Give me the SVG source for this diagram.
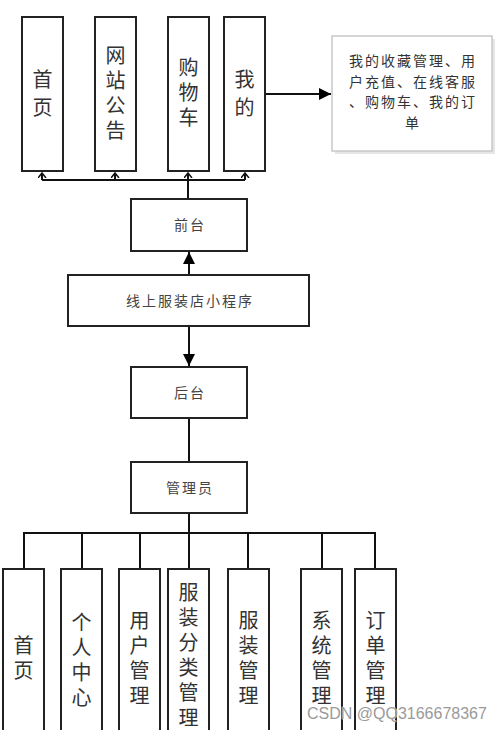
<svg xmlns="http://www.w3.org/2000/svg" width="500" height="730" viewBox="0 0 500 730">
<style>
.box{fill:#fff;stroke:#222;stroke-width:2}
.ln{fill:none;stroke:#111;stroke-width:2}
.v{font-family:"Noto Sans CJK SC","Noto Sans",sans-serif;font-size:20px;fill:#333;text-anchor:middle;writing-mode:vertical-rl;text-orientation:upright;letter-spacing:5px}
.w{letter-spacing:8px}
.m{font-family:"Noto Sans CJK SC","Noto Sans",sans-serif;font-size:14px;fill:#444;text-anchor:middle;letter-spacing:2px}
.r{font-family:"Noto Sans CJK SC","Noto Sans",sans-serif;font-size:14px;fill:#333;text-anchor:middle;letter-spacing:2px}
</style>
<defs>
<marker id="fa" markerUnits="userSpaceOnUse" markerWidth="14" markerHeight="14" refX="12" refY="6" orient="auto"><path d="M0,0 L12,6 L0,12 z" fill="#000"/></marker>
<marker id="oa" markerUnits="userSpaceOnUse" markerWidth="10" markerHeight="10" refX="5" refY="4.5" orient="auto"><path d="M0,0.5 L5,4.5 L0,8.5" fill="none" stroke="#111" stroke-width="1.5"/></marker>
</defs>
<rect width="500" height="730" fill="#fff"/>
<g id="connectors">
<path class="ln" d="M42,180 H245"/>
<path class="ln" d="M42,180 V173" marker-end="url(#oa)"/>
<path class="ln" d="M115,180 V173" marker-end="url(#oa)"/>
<path class="ln" d="M188,180 V173" marker-end="url(#oa)"/>
<path class="ln" d="M245,180 V173" marker-end="url(#oa)"/>
<path class="ln" d="M188,199 V180"/>
<path class="ln" d="M265,94 H331" marker-end="url(#fa)"/>
<path class="ln" d="M189,275 V252" marker-end="url(#fa)"/>
<path class="ln" d="M189,326 V366" marker-end="url(#fa)"/>
<path class="ln" d="M189,418 V462"/>
<path class="ln" d="M189,513 V533"/>
<path class="ln" d="M24,569 V533 H375 V569"/>
<path class="ln" d="M82,533 V569 M140,533 V569 M189,533 V569 M248,533 V569 M322,533 V569"/>
</g>
<g id="n-home-top"><rect class="box" x="22" y="17" width="41" height="154"/><text class="v w" x="42.5" y="97">首页</text></g>
<g id="n-notice"><rect class="box" x="95" y="17" width="41" height="154"/><text class="v" x="115.5" y="95">网站公告</text></g>
<g id="n-cart"><rect class="box" x="168" y="17" width="41" height="154"/><text class="v" x="188.5" y="95">购物车</text></g>
<g id="n-mine"><rect class="box" x="224" y="17" width="41" height="154"/><text class="v w" x="244.5" y="97.5">我的</text></g>
<g id="n-mine-detail">
<rect x="335" y="39" width="160" height="115" fill="#e6e6e6"/>
<rect x="332" y="36" width="160" height="115" fill="#fff" stroke="#c8c8c8" stroke-width="1.5"/>
<text class="r"><tspan x="413" y="66">我的收藏管理、用</tspan><tspan x="413" y="86.5">户充值、在线客服</tspan><tspan x="413" y="107">、购物车、我的订</tspan><tspan x="413" y="127.5">单</tspan></text>
</g>
<g id="n-front"><rect class="box" x="131" y="199" width="116" height="52"/><text class="m" x="190" y="230">前台</text></g>
<g id="n-app"><rect class="box" x="68" y="275" width="241" height="51"/><text class="m" x="190" y="306">线上服装店小程序</text></g>
<g id="n-back"><rect class="box" x="131" y="367" width="116" height="51"/><text class="m" x="190" y="398">后台</text></g>
<g id="n-admin"><rect class="box" x="131" y="462" width="116" height="51"/><text class="m" x="190" y="493">管理员</text></g>
<g id="n-home"><rect class="box" x="3" y="569" width="41" height="175"/><text class="v" x="23.5" y="660">首页</text></g>
<g id="n-personal"><rect class="box" x="61" y="569" width="41" height="175"/><text class="v" x="81.5" y="662">个人中心</text></g>
<g id="n-user"><rect class="box" x="119" y="569" width="41" height="175"/><text class="v" x="139.5" y="660">用户管理</text></g>
<g id="n-category"><rect class="box" x="168" y="569" width="41" height="175"/><text class="v" x="188.5" y="657">服装分类管理</text></g>
<g id="n-clothes"><rect class="box" x="228" y="569" width="41" height="175"/><text class="v" x="248.5" y="660">服装管理</text></g>
<g id="n-system"><rect class="box" x="301" y="569" width="41" height="175"/><text class="v" x="321.5" y="660">系统管理</text></g>
<g id="n-order"><rect class="box" x="355" y="569" width="41" height="175"/><text class="v" x="375.5" y="660">订单管理</text></g>
<text x="307" y="719" font-family="Liberation Sans, Arial, sans-serif" font-size="16" fill="#9a9a9a" stroke="#fff" stroke-width="0.6" paint-order="stroke">CSDN @QQ3166678367</text>
</svg>
